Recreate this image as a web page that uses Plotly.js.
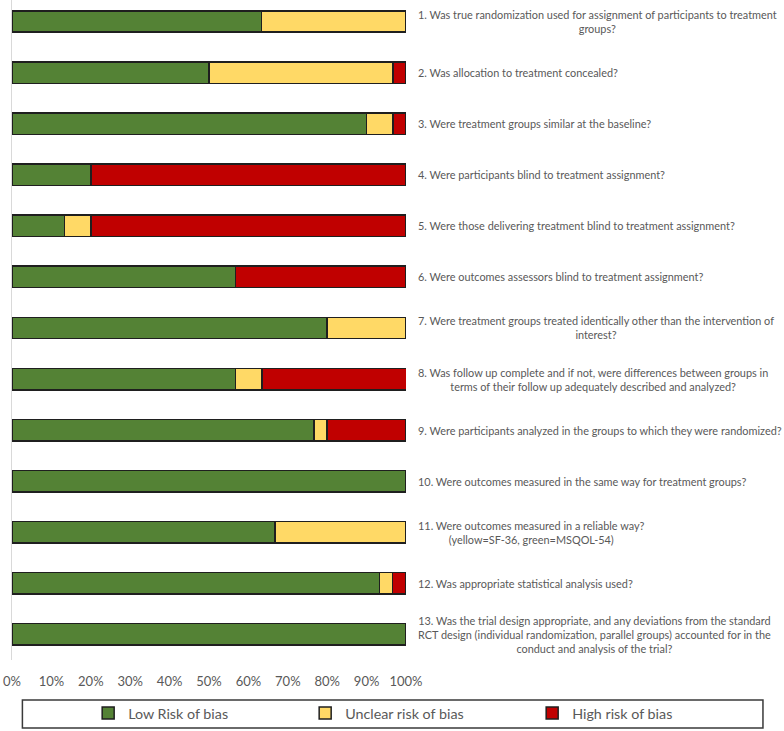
<!DOCTYPE html>
<html>
<head>
<meta charset="utf-8">
<script src="https://cdn.plot.ly/plotly-3.0.1.min.js"></script>
<style>html,body{margin:0;padding:0;background:#fff;}#chart{width:784px;height:731px;}</style>
</head>
<body>
<div id="chart"></div>
<script>
var questions = [
  "1. Was true randomization used for assignment of participants to treatment<br>groups?",
  "2. Was allocation to treatment concealed?",
  "3. Were treatment groups similar at the baseline?",
  "4. Were participants blind to treatment assignment?",
  "5. Were those delivering treatment blind to treatment assignment?",
  "6. Were outcomes assessors blind to treatment assignment?",
  "7. Were treatment groups treated identically other than the intervention of<br>interest?",
  "8. Was follow up complete and if not, were differences between groups in<br>terms of their follow up adequately described and analyzed?",
  "9. Were participants analyzed in the groups to which they were randomized?",
  "10. Were outcomes measured in the same way for treatment groups?",
  "11. Were outcomes measured in a reliable way?<br>(yellow=SF-36, green=MSQOL-54)",
  "12. Was appropriate statistical analysis used?",
  "13. Was the trial design appropriate, and any deviations from the standard<br>RCT design (individual randomization, parallel groups) accounted for in the<br>conduct and analysis of the trial?"
];
var seriesNames = ["Low Risk of bias", "Unclear risk of bias", "High risk of bias"];
var lowRisk     = [0.633, 0.500, 0.900, 0.200, 0.133, 0.567, 0.800, 0.567, 0.767, 1.000, 0.667, 0.933, 1.000];
var unclearRisk = [0.367, 0.467, 0.067, 0.000, 0.067, 0.000, 0.200, 0.067, 0.033, 0.000, 0.333, 0.033, 0.000];
var highRisk    = [0.000, 0.033, 0.033, 0.800, 0.800, 0.433, 0.000, 0.367, 0.200, 0.000, 0.000, 0.033, 0.000];
var xTickVals = [0, 0.1, 0.2, 0.3, 0.4, 0.5, 0.6, 0.7, 0.8, 0.9, 1.0];
var xTickText = ["0%", "10%", "20%", "30%", "40%", "50%", "60%", "70%", "80%", "90%", "100%"];

var colors = ["#548235", "#FFD966", "#C00000"];
var seriesVals = [lowRisk, unclearRisk, highRisk];
var legendWidths = [172, 182, 120];
var FONT = "Lato, 'Open Sans', sans-serif";
var GREY = "#595959";

var traces = seriesVals.map(function (vals, i) {
  return {
    type: "bar",
    orientation: "h",
    name: seriesNames[i],
    x: vals,
    y: questions,
    width: 0.42,
    marker: { color: colors[i], line: { color: "#1f1f1f", width: 1.5 } },
    legendwidth: legendWidths[i],
    hoverinfo: "skip"
  };
});

var annotations = questions.map(function (q) {
  return {
    text: q, xref: "paper", x: 1.026, xanchor: "left",
    yref: "y", y: q, yanchor: "middle",
    align: "center", showarrow: false,
    font: { family: FONT, size: 10.9, color: GREY }
  };
});

var layout = {
  width: 784, height: 731,
  margin: { l: 12.3, r: 378, t: 0, b: 71, pad: 0, autoexpand: false },
  paper_bgcolor: "#ffffff", plot_bgcolor: "#ffffff",
  barmode: "stack",
  bargap: 0,
  xaxis: {
    range: [0, 1], tickvals: xTickVals, ticktext: xTickText,
    showgrid: false, zeroline: false, showline: false, ticks: "",
    ticklabelstandoff: 12,
    tickfont: { family: FONT, size: 13, color: GREY },
    automargin: false,
    fixedrange: true
  },
  yaxis: {
    type: "category", categoryorder: "array", categoryarray: questions,
    range: [12.5, -0.421], showticklabels: false, ticks: "",
    showgrid: false, zeroline: false,
    showline: true, linecolor: "#d9d9d9", linewidth: 1.5,
    automargin: false,
    fixedrange: true
  },
  showlegend: true,
  legend: {
    orientation: "h", traceorder: "normal",
    x: 1.739, xanchor: "right", xref: "paper",
    y: -0.0805, yanchor: "middle", yref: "paper",
    bgcolor: "rgba(0,0,0,0)", borderwidth: 0,
    font: { family: FONT, size: 14.3, color: GREY }
  },
  shapes: [{
    type: "rect", xref: "paper", yref: "paper",
    x0: 0.0264, x1: 1.906, y0: -0.0606, y1: -0.103,
    line: { color: "#3a3a3a", width: 1.5 }, fillcolor: "rgba(0,0,0,0)"
  }],
  annotations: annotations
};

Plotly.newPlot("chart", traces, layout, { displayModeBar: false, staticPlot: true });
</script>
</body>
</html>
